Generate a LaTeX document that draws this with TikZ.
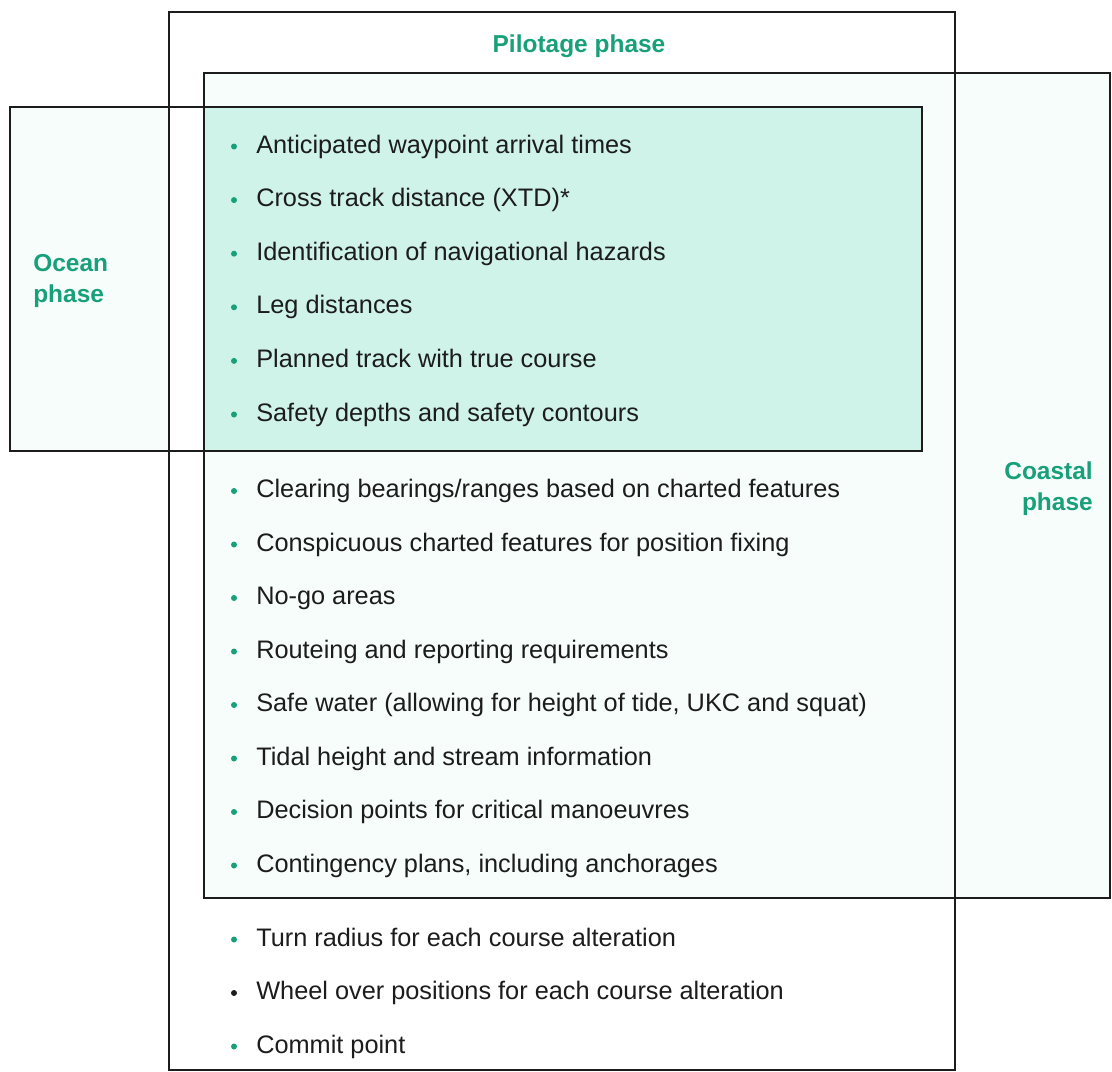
\documentclass[tikz,border=0pt]{standalone}
\usepackage{fontspec}
\setmainfont{Liberation Sans}
\definecolor{teal2}{RGB}{24,160,122}
\definecolor{mint}{RGB}{207,243,232}
\definecolor{paletint}{RGB}{247,253,251}
\definecolor{ink}{RGB}{28,28,28}
\newcommand\bitem[4]{%
  \node[bul,fill=#3] (b#1) at (234,#2+1.5) {};
  \node[itemtext] (t#1) at (256,#2+8) {#4};
}
\begin{document}
\begin{tikzpicture}[x=0.025cm,y=-0.025cm,
  frame/.style={draw=ink,line width=1.5pt},
  bul/.style={circle,inner sep=0pt,minimum size=0.15cm,draw=none},
  itemtext/.style={anchor=base west,inner sep=0pt,font=\fontsize{18}{22}\selectfont,text=ink},
  phase/.style={font=\bfseries\fontsize{17.4}{21.5}\selectfont,text=teal2,inner sep=0pt}]
\useasboundingbox (0,0) rectangle (1112,1072);
% fills
\fill[paletint] (204,73) rectangle (1110,898);
\fill[paletint] (10,107) rectangle (169,451);
\fill[mint] (204,107) rectangle (922,451);
% frames
\draw[frame] (169,12) rectangle (955,1070);
\draw[frame] (204,73) rectangle (1110,898);
\draw[frame] (10,107) rectangle (922,451);
% labels
\node[phase,anchor=base] (pil) at (579,52) {Pilotage phase};
\node[phase,align=left,anchor=base west] (oce) at (33,302) {Ocean\\phase};
\node[phase,align=right,anchor=base east] (coa) at (1093,510) {Coastal\\phase};
% items
\bitem{1}{145}{teal2}{Anticipated waypoint arrival times}
\bitem{2}{198.6}{teal2}{Cross track distance (XTD)*}
\bitem{3}{252.2}{teal2}{Identification of navigational hazards}
\bitem{4}{305.8}{teal2}{Leg distances}
\bitem{5}{359.4}{teal2}{Planned track with true course}
\bitem{6}{413}{teal2}{Safety depths and safety contours}
\bitem{7}{489.5}{teal2}{Clearing bearings/ranges based on charted features}
\bitem{8}{543}{teal2}{Conspicuous charted features for position fixing}
\bitem{9}{596.5}{teal2}{No-go areas}
\bitem{10}{650}{teal2}{Routeing and reporting requirements}
\bitem{11}{703.5}{teal2}{Safe water (allowing for height of tide, UKC and squat)}
\bitem{12}{757}{teal2}{Tidal height and stream information}
\bitem{13}{810.5}{teal2}{Decision points for critical manoeuvres}
\bitem{14}{864}{teal2}{Contingency plans, including anchorages}
\bitem{15}{938}{teal2}{Turn radius for each course alteration}
\bitem{16}{991.5}{ink}{Wheel over positions for each course alteration}
\bitem{17}{1045}{teal2}{Commit point}
\end{tikzpicture}
\end{document}
